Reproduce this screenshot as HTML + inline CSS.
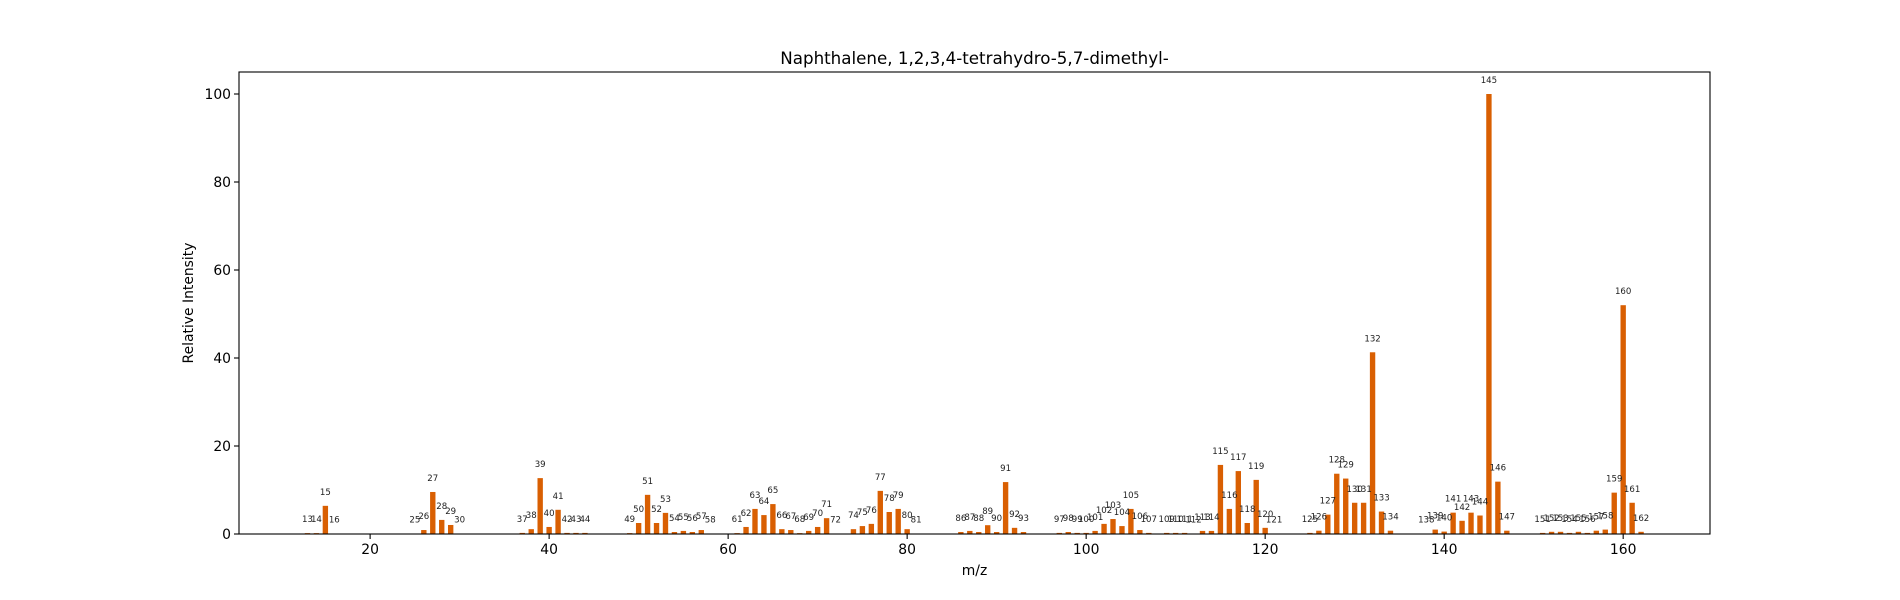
<!DOCTYPE html>
<html><head><meta charset="utf-8"><style>
html,body{margin:0;padding:0;background:#fff;}
svg{display:block;font-family:"DejaVu Sans","Liberation Sans",sans-serif;}
</style></head><body>
<svg id="chart" width="1900" height="600" viewBox="0 0 1900 600" xmlns="http://www.w3.org/2000/svg">
<rect width="1900" height="600" fill="#fff"/>
<text x="974.5" y="64" font-size="16.7" text-anchor="middle" fill="#000">Naphthalene, 1,2,3,4-tetrahydro-5,7-dimethyl-</text>
<g id="bars"></g>
<g id="labels"></g>
<g id="axes"></g>
<text x="974.5" y="575" font-size="13.9" text-anchor="middle" fill="#000">m/z</text>
<text x="0" y="0" font-size="13.9" text-anchor="middle" fill="#000" transform="translate(193,303) rotate(-90)">Relative Intensity</text>
</svg>
<script>
const mz = [13,14,15,16,25,26,27,28,29,30,37,38,39,40,41,42,43,44,49,50,51,52,53,54,55,56,57,58,61,62,63,64,65,66,67,68,69,70,71,72,74,75,76,77,78,79,80,81,86,87,88,89,90,91,92,93,97,98,99,100,101,102,103,104,105,106,107,109,110,111,112,113,114,115,116,117,118,119,120,121,125,126,127,128,129,130,131,132,133,134,138,139,140,141,142,143,144,145,146,147,151,152,153,154,155,156,157,158,159,160,161,162];
const intensity = [0.2,0.2,6.4,0.1,0.1,0.9,9.55,3.2,2.05,0.1,0.25,1.1,12.7,1.6,5.5,0.25,0.25,0.25,0.2,2.5,8.9,2.5,4.8,0.45,0.7,0.45,0.9,0.1,0.2,1.6,5.7,4.3,6.8,1.1,0.9,0.2,0.7,1.6,3.6,0.1,1.1,1.8,2.3,9.8,5.0,5.7,1.1,0.1,0.45,0.7,0.45,2.0,0.45,11.8,1.4,0.45,0.25,0.45,0.25,0.25,0.7,2.3,3.4,1.8,5.7,0.9,0.25,0.25,0.25,0.25,0.1,0.7,0.7,15.7,5.7,14.3,2.5,12.3,1.4,0.1,0.25,0.75,4.4,13.7,12.6,7.1,7.1,41.3,5.1,0.75,0.1,1.0,0.55,4.85,3.0,4.85,4.2,100,11.9,0.75,0.25,0.5,0.5,0.25,0.5,0.25,0.75,1.0,9.4,52.0,7.1,0.5];
const xTicks = [20,40,60,80,100,120,140,160];
const yTicks = [0,20,40,60,80,100];

const L=239,R=1710,T=72,B=534, XMIN=5.35, XMAX=169.7, YMAX=105;
const sx=v=>L+(v-XMIN)/(XMAX-XMIN)*(R-L);
const sy=v=>B-v/YMAX*(B-T);
const NS="http://www.w3.org/2000/svg";
function mk(tag,attrs,parent){const e=document.createElementNS(NS,tag);for(const k in attrs)e.setAttribute(k,attrs[k]);parent.appendChild(e);return e;}
const bars=document.getElementById('bars'),labels=document.getElementById('labels'),axes=document.getElementById('axes');
const bw=0.6*(R-L)/(XMAX-XMIN);
mz.forEach((m,i)=>{
  const v=intensity[i];
  const r=mk('rect',{x:sx(m)-bw/2,y:sy(v),width:bw,height:B-sy(v),fill:'#d95f02'},bars);
  
  
  const t=mk('text',{x:sx(m),y:sy(v)-11,'font-size':8.6,'text-anchor':'middle',fill:'#222'},labels);
  t.textContent=m;
  
  
});
const frame=mk('rect',{x:L,y:T,width:R-L,height:B-T,fill:'none',stroke:'#000','stroke-width':1.1},axes);


xTicks.forEach(v=>{
  mk('line',{x1:sx(v),x2:sx(v),y1:B,y2:B+5,stroke:'#000','stroke-width':1.1},axes);
  const t=mk('text',{x:sx(v),y:B+20,'font-size':13.9,'text-anchor':'middle',fill:'#000'},axes);
  t.textContent=v;
  
  
});
yTicks.forEach(v=>{
  mk('line',{x1:L-5,x2:L,y1:sy(v),y2:sy(v),stroke:'#000','stroke-width':1.1},axes);
  const t=mk('text',{x:L-8,y:sy(v)+5,'font-size':13.9,'text-anchor':'end',fill:'#000'},axes);
  t.textContent=v;
  
  
});
</script>
</body></html>
